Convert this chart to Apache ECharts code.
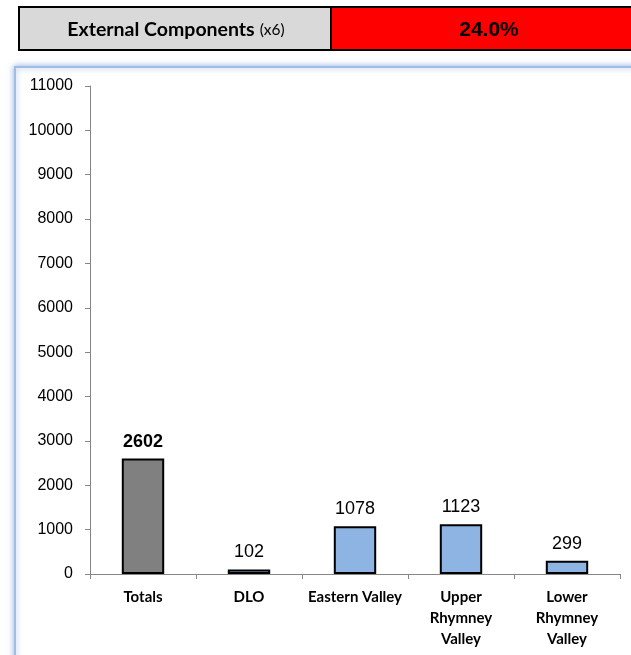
<!DOCTYPE html>
<html>
<head>
<meta charset="utf-8">
<script src="https://cdn.jsdelivr.net/npm/echarts@6/dist/echarts.min.js"></script>
<style>
html,body{margin:0;padding:0;background:#fff;}
#chart{width:631px;height:655px;}
</style>
</head>
<body>
<div id="chart"></div>
<script>
const categories = ['Totals', 'DLO', 'Eastern Valley', 'Upper\nRhymney\nValley', 'Lower\nRhymney\nValley'];
const values = [2602, 102, 1078, 1123, 299];
const barColors = ['#808080', '#8db4e2', '#8db4e2', '#8db4e2', '#8db4e2'];
const headerTitle = 'External Components';
const headerSuffix = '(x6)';
const headerValue = '24.0%';
const yMin = 0, yMax = 11000, yStep = 1000;

const chart = echarts.init(document.getElementById('chart'), null, {renderer: 'canvas'});
const seriesData = values.map((v, i) => ({
  value: v,
  itemStyle: {color: barColors[i]},
  label: i === 0 ? {fontWeight: 'bold'} : {}
}));

chart.setOption({
  animation: false,
  backgroundColor: '#fff',
  graphic: [
    {type: 'rect', shape: {x: 15, y: 67, width: 640, height: 620},
     style: {fill: '#fff', stroke: '#9fbde6', lineWidth: 2, shadowBlur: 6, shadowColor: 'rgba(110,150,215,0.7)'}, z: -10},
    {type: 'rect', shape: {x: 19, y: 7, width: 312, height: 43},
     style: {fill: '#d9d9d9', stroke: '#000', lineWidth: 2}},
    {type: 'rect', shape: {x: 331, y: 7, width: 320, height: 43},
     style: {fill: '#ff0000', stroke: '#000', lineWidth: 2}},
    {type: 'text', x: 176, y: 30,
     style: {text: '{t|' + headerTitle + '}{s|' + headerSuffix + '}', align: 'center', verticalAlign: 'middle',
       rich: {t: {fontFamily: 'Lato', fontWeight: 'bold', fontSize: 19.5, fill: '#000'},
              s: {fontFamily: 'Lato', fontSize: 15.5, fill: '#000', padding: [0, 0, 0, 5]}}}},
    {type: 'text', x: 489, y: 30,
     style: {text: headerValue, align: 'center', verticalAlign: 'middle', fontFamily: 'Liberation Sans, Arial', fontWeight: 'bold', fontSize: 21, fill: '#000'}}
  ],
  grid: {left: 90, right: 11, top: 86, bottom: 81, containLabel: false},
  xAxis: {
    type: 'category',
    data: categories,
    axisLine: {lineStyle: {color: '#868686', width: 1}},
    axisTick: {show: true, alignWithLabel: false, length: 5, lineStyle: {color: '#868686'}},
    axisLabel: {interval: 0, margin: 13, color: '#000', fontFamily: 'Lato', fontWeight: 'bold', fontSize: 15, lineHeight: 21}
  },
  yAxis: {
    type: 'value',
    min: yMin, max: yMax, interval: yStep,
    axisLine: {show: true, lineStyle: {color: '#868686', width: 1}},
    axisTick: {show: true, length: 5, lineStyle: {color: '#868686'}},
    splitLine: {show: false},
    axisLabel: {margin: 17, color: '#000', fontFamily: 'Liberation Sans, Arial', fontSize: 16, formatter: v => String(v)}
  },
  series: [{
    type: 'bar',
    data: seriesData,
    barWidth: '40%',
    itemStyle: {borderColor: '#000', borderWidth: 2},
    label: {show: true, position: 'top', distance: 8, color: '#000', fontFamily: 'Liberation Sans, Arial', fontSize: 18}
  }]
});
</script>
</body>
</html>
